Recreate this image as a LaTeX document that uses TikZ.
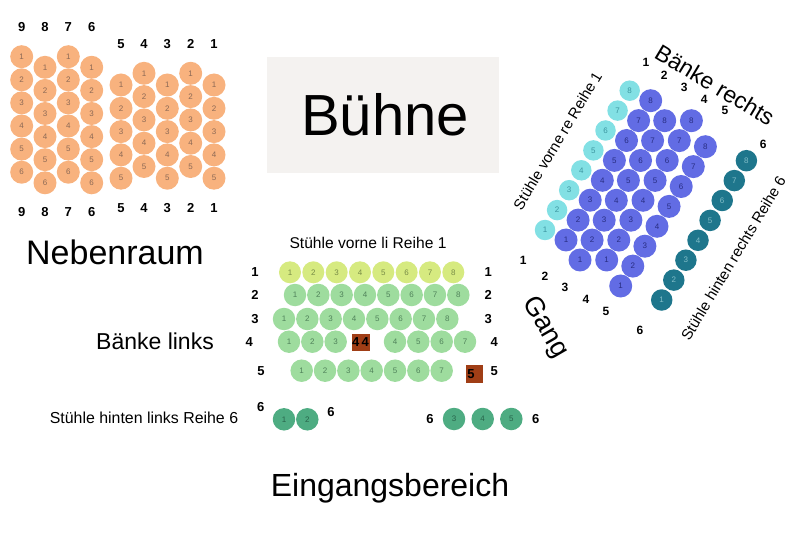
\documentclass[tikz,border=0pt]{standalone}
\usepackage{fontspec}
\setmainfont{Liberation Sans}
\definecolor{orfill}{RGB}{248,178,126}
\definecolor{ortext}{RGB}{140,105,85}
\definecolor{ylfill}{RGB}{214,234,128}
\definecolor{yltext}{RGB}{120,140,70}
\definecolor{grfill}{RGB}{158,220,158}
\definecolor{grtext}{RGB}{80,130,90}
\definecolor{dgfill}{RGB}{78,172,130}
\definecolor{dgtext}{RGB}{40,100,75}
\definecolor{cyfill}{RGB}{130,224,228}
\definecolor{cytext}{RGB}{60,150,160}
\definecolor{blfill}{RGB}{98,108,228}
\definecolor{bltext}{RGB}{40,45,130}
\definecolor{tlfill}{RGB}{30,118,140}
\definecolor{tltext}{RGB}{130,190,200}
\definecolor{brfill}{RGB}{160,62,22}
\definecolor{stagefill}{RGB}{244,242,240}
\begin{document}
\begin{tikzpicture}[x=1pt,y=-1pt,
  every node/.style={inner sep=0pt},
  seat/.style={circle, inner sep=0pt, minimum size=23pt, font=\fontsize{8}{8}\selectfont},
  orseat/.style={seat, fill=orfill, text=ortext},
  ylseat/.style={seat, minimum size=22pt, fill=ylfill, text=yltext},
  grseat/.style={seat, minimum size=22.5pt, fill=grfill, text=grtext},
  dgseat/.style={seat, minimum size=22.5pt, fill=dgfill, text=dgtext},
  cyseat/.style={seat, minimum size=20.5pt, fill=cyfill, text=cytext},
  blseat/.style={seat, minimum size=23pt, fill=blfill, text=bltext},
  tlseat/.style={seat, minimum size=21.5pt, fill=tlfill, text=tltext},
  lbl/.style={font=\fontsize{13}{13}\selectfont\bfseries},
  rlbl/.style={font=\fontsize{12}{12}\selectfont\bfseries},
  blocked/.style={fill=brfill, minimum width=18pt, minimum height=17pt, font=\fontsize{13}{13}\selectfont\bfseries},
  title/.style={anchor=base}
]
\useasboundingbox (0,0) rectangle (800,537);

% ---------- Stage ----------
\node[fill=stagefill, minimum width=232pt, minimum height=115.7pt] (stage) at (383.3,114.8) {};
\node[title, font=\fontsize{58}{58}\selectfont] (stagetxt) at (385,135.5) {Bühne};

% ---------- Nebenraum ----------
\foreach \c/\x/\y in {9/21.7/56.7, 8/45/67.3, 7/68.3/56.7, 6/91.7/67.3}{
  \foreach \i in {1,...,6}{
    \node[orseat] (n\c-\i) at (\x,{\y+(\i-1)*23.1}) {\i};
  }
  \node[lbl] (nt\c) at (\x,26.7) {\c};
  \node[lbl] (nb\c) at (\x,211.7) {\c};
}
\foreach \c/\x/\y in {5/121/85, 4/144/73.3, 3/167.3/85, 2/190.7/73.3, 1/214/85}{
  \foreach \i in {1,...,5}{
    \node[orseat] (n\c-\i) at (\x,{\y+(\i-1)*23.3}) {\i};
  }
  \node[lbl] (nt\c) at (\x,44.3) {\c};
  \node[lbl] (nb\c) at (\x,208.3) {\c};
}
\node[title, font=\fontsize{34}{34}\selectfont] (neben) at (115,265) {Nebenraum};

% ---------- Bänke links ----------
\node[title, font=\fontsize{23}{23}\selectfont] (bl) at (155,349) {Bänke links};
\node[title, font=\fontsize{15.6}{15.6}\selectfont] (svl) at (368,248.3) {Stühle vorne li Reihe 1};

\foreach \i in {1,...,8}{
  \node[ylseat] (g1-\i) at ({290+(\i-1)*23.33},272.3) {\i};
  \node[grseat] (g2-\i) at ({295+(\i-1)*23.33},295) {\i};
  \node[grseat] (g3-\i) at ({284+(\i-1)*23.33},319) {\i};
}
\foreach \i in {1,2,3}{
  \node[grseat] (g4-\i) at ({289+(\i-1)*23.33},341.7) {\i};
}
\foreach \i/\x in {4/395, 5/418.3, 6/441.7, 7/465}{
  \node[grseat] (g4b-\i) at (\x,341.7) {\i};
}
\foreach \i in {1,...,7}{
  \node[grseat] (g5-\i) at ({301.7+(\i-1)*23.33},370.7) {\i};
}
\node[blocked] (x44) at (360.5,342) {4\,4};
\node[blocked, text width=14pt, align=left, minimum width=17pt, minimum height=18pt] (x5) at (474.3,373.8) {5};

\foreach \r/\xl/\xr/\y in {1/255/488.3/272.3, 2/255/488.3/295, 3/255/488.3/319, 4/249.3/494.3/341.7, 5/261/494.3/370.7}{
  \node[lbl] (gl\r) at (\xl,\y) {\r};
  \node[lbl] (gr\r) at (\xr,\y) {\r};
}

% ---------- Reihe 6 hinten ----------
\node[title, font=\fontsize{15.9}{15.9}\selectfont] (shl) at (144,423) {Stühle hinten links Reihe 6};
\node[lbl] (h6a) at (260.7,406.7) {6};
\node[dgseat] (h6-1) at (284,419.3) {1};
\node[dgseat] (h6-2) at (307.3,419.3) {2};
\node[lbl] (h6b) at (331,411.7) {6};
\node[lbl] (h6c) at (430,419) {6};
\node[dgseat] (h6-3) at (454,419) {3};
\node[dgseat] (h6-4) at (482.7,419) {4};
\node[dgseat] (h6-5) at (511.3,419) {5};
\node[lbl] (h6d) at (535.7,419) {6};

\node[title, font=\fontsize{32}{32}\selectfont] (eing) at (390,496.7) {Eingangsbereich};

% ---------- Bänke rechts ----------
\foreach \i in {1,...,8}{
  \node[cyseat] (r1-\i) at ({545+(\i-1)*12.1},{230-(\i-1)*19.9}) {\i};
  \node[blseat] (r2-\i) at ({566+(\i-1)*12.1},{240-(\i-1)*19.9}) {\i};
  \node[blseat] (r3-\i) at ({580+(\i-1)*12.1},{260-(\i-1)*19.9}) {\i};
  \node[blseat] (r4-\i) at ({606.7+(\i-1)*12.1},{260-(\i-1)*19.9}) {\i};
  \node[blseat] (r5-\i) at ({620.7+(\i-1)*12.1},{286-(\i-1)*19.9}) {\i};
  \node[tlseat] (r6-\i) at ({661.7+(\i-1)*12.1},{300-(\i-1)*19.9}) {\i};
}
\foreach \r/\x/\y in {1/523.3/260, 2/545/276, 3/565/287.3, 4/586/299.3, 5/606/311.7, 6/640/330}{
  \node[rlbl] (rl\r) at (\x,\y) {\r};
}
\foreach \r/\x/\y in {1/646/62.3, 2/664.3/75.7, 3/684.3/87.3, 4/704.3/99, 5/725/110, 6/763.3/144.3}{
  \node[rlbl] (rt\r) at (\x,\y) {\r};
}
\node[rotate=-31, font=\fontsize{23}{23}\selectfont] (br) at (715,85) {Bänke rechts};
\node[rotate=59, font=\fontsize{15}{15}\selectfont] (svr) at (557.5,140.7) {Stühle vorne re Reihe 1};
\node[rotate=59, font=\fontsize{15}{15}\selectfont] (shr) at (733.3,258.3) {Stühle hinten rechts Reihe 6};
\node[rotate=-60, font=\fontsize{27}{27}\selectfont] (gang) at (545,328) {Gang};
\end{tikzpicture}
\end{document}
